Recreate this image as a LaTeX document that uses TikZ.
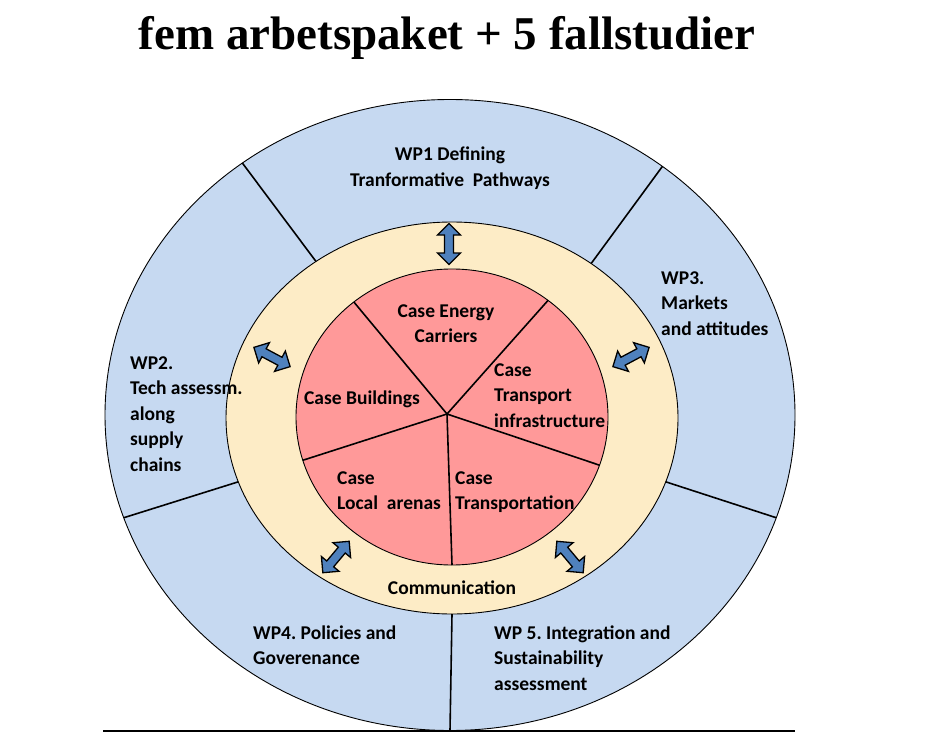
\documentclass[tikz,border=0pt]{standalone}
\usepackage{fontspec}
\setmainfont{Carlito}
\newfontfamily\titlefont{Liberation Serif}
\usetikzlibrary{calc}
\definecolor{ringblue}{RGB}{198,217,241}
\definecolor{ringyellow}{RGB}{253,236,198}
\definecolor{casered}{RGB}{255,153,153}
\definecolor{arrowblue}{RGB}{79,129,189}
\newcommand\dblarrowshape[3]{\draw[dblarr, shift={(#1,-#2)}, rotate=#3] (-20.5,0) -- (-9,11.5) -- (-9,4.5) -- (9,4.5) -- (9,11.5) -- (20.5,0) -- (9,-11.5) -- (9,-4.5) -- (-9,-4.5) -- (-9,-11.5) -- cycle;}
\frenchspacing
\begin{document}
\begin{tikzpicture}[x=1pt,y=1pt,
  lbl/.style={font=\fontsize{19.5}{25.5}\selectfont\bfseries, inner sep=0pt, align=left},
  divline/.style={line width=1.6pt},
  ringedge/.style={line width=0.9pt},
  dblarr/.style={draw=black, fill=arrowblue, line width=1.3pt, line join=miter}]
\useasboundingbox (0,0) rectangle (925,-743);
\node[font=\titlefont\fontsize{47}{50}\selectfont\bfseries, anchor=base, inner sep=0pt] (title) at (447,-50) {fem arbetspaket + 5 fallstudier};
\coordinate (O) at (450,-415);
\coordinate (Y) at (452,-418);
\coordinate (R) at (452,-417);
\coordinate (P) at (447,-414);
% outer ring
\fill[ringblue] (O) ellipse [x radius=345, y radius=315.5];
\draw[ringedge] (O) ellipse [x radius=345, y radius=315.5];
% yellow ring
\filldraw[ringedge, fill=ringyellow] (Y) ellipse [x radius=226, y radius=196];
% dividing lines of the outer ring
\foreach \t in {52,127,199,270,341}
  \draw[divline] ($(Y)+({226*cos(\t)},{196*sin(\t)})$) -- ($(O)+({345*cos(\t)},{315.5*sin(\t)})$);
% red circle
\filldraw[ringedge, fill=casered] (R) ellipse [x radius=156, y radius=148];
\foreach \t in {52,129,197,270,341}
  \draw[divline] (P) -- ($(R)+({156*cos(\t)},{148*sin(\t)})$);
% bottom rule
\draw[line width=1.2pt] (103,-731) -- (795,-731);
% double arrows
\dblarrowshape{449}{244}{90}
\dblarrowshape{272}{357}{-28}
\dblarrowshape{631}{357}{28}
\dblarrowshape{336}{557}{50}
\dblarrowshape{570}{557}{-50}
% labels (anchor base = baseline of the last line)
\node[lbl, align=center, anchor=base] (wp1) at (450,-186.5) {WP1 Defining\\Tranformative\ \ Pathways};
\node[lbl, anchor=base west] (wp3) at (661,-335) {WP3.\\Markets\\and attitudes};
\node[lbl, anchor=base west] (wp2) at (130,-471) {WP2.\\Tech assessm.\\along\\supply\\chains};
\node[lbl, anchor=base west] (wp4) at (253,-664.5) {WP4. Policies and\\Goverenance};
\node[lbl, anchor=base west] (wp5) at (494,-690) {WP 5. Integration and\\Sustainability\\assessment};
\node[lbl, align=center, anchor=base] (energy) at (446,-342.5) {Case Energy\\Carriers};
\node[lbl, anchor=base] (build) at (362,-404) {Case Buildings};
\node[lbl, anchor=base west] (transinf) at (494,-427) {Case\\Transport\\infrastructure};
\node[lbl, anchor=base west] (local) at (337,-509.5) {Case\\Local\ \ arenas};
\node[lbl, anchor=base west] (transp) at (455,-509.5) {Case\\Transportation};
\node[lbl, anchor=base] (comm) at (452,-594) {Communication};
\end{tikzpicture}
\end{document}
